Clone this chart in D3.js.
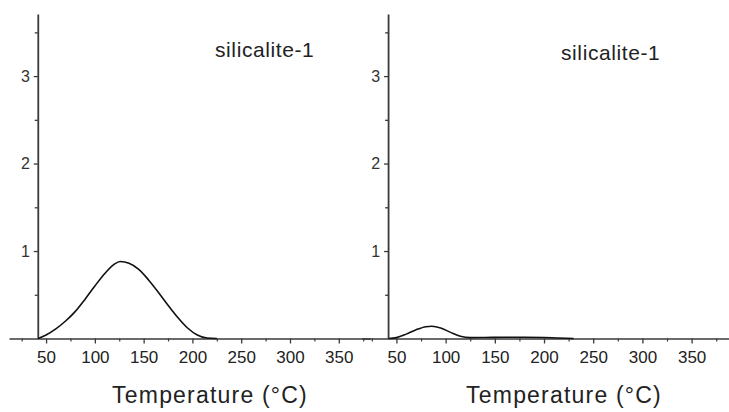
<!DOCTYPE html>
<html>
<head>
<meta charset="utf-8">
<script src="https://cdn.jsdelivr.net/npm/d3@7"></script>
<style>
  body { margin: 0; background: #fff; }
  svg { display: block; font-family: "Liberation Sans", Arial, sans-serif; }
</style>
</head>
<body>
<div id="chart"></div>
<script>
// temperature (°C) and signal for each panel
const leftTemp  = [42, 50, 60, 70, 80, 90, 100, 110, 120, 126, 135, 145, 155, 165, 175, 185, 195, 205, 215, 225];
const leftVal   = [0, 0.04, 0.11, 0.2, 0.31, 0.45, 0.6, 0.74, 0.85, 0.88, 0.86, 0.79, 0.67, 0.53, 0.38, 0.24, 0.12, 0.04, 0.005, 0];
const rightTemp = [42, 50, 60, 70, 80, 86, 95, 105, 115, 125, 140, 160, 180, 200, 215, 230];
const rightVal  = [0, 0.01, 0.05, 0.1, 0.135, 0.14, 0.12, 0.07, 0.025, 0.01, 0.012, 0.015, 0.015, 0.012, 0.005, 0];

const xMajor = [50, 100, 150, 200, 250, 300, 350];
const xMinor = [25, 75, 125, 175, 225, 275, 325, 375];
const yMajor = [1, 2, 3];
const yMinor = [0.5, 1.5, 2.5, 3.5];
const panelLabel = "silicalite-1";
const xTitle = "Temperature (°C)";

const W = 729, H = 412;
const axisColor = "#3a3a3a";

const svg = d3.select("#chart").append("svg")
    .attr("width", W)
    .attr("height", H);

const y = d3.scaleLinear().domain([0, 3.71]).range([338.5, 14]);

const panels = [
    {temp: leftTemp, val: leftVal, domain: [12, 382], range: [9, 370], label: [215, 57], title: 210},
    {temp: rightTemp, val: rightVal, domain: [15, 388], range: [362, 729], label: [561, 60], title: 564}
];

panels.forEach(p => {
    const x = d3.scaleLinear().domain(p.domain).range(p.range);
    const g = svg.append("g");
    const yAxisX = x(41.5);

    // x axis: minor ticks first, then labelled major ticks
    g.append("g")
        .attr("transform", `translate(0,${y(0)})`)
        .call(d3.axisBottom(x).tickValues(xMinor).tickSize(3).tickFormat(""))
        .call(a => a.select(".domain").remove())
        .call(a => a.selectAll("line").attr("stroke", axisColor).attr("stroke-width", 1.2));

    const xa = g.append("g")
        .attr("transform", `translate(0,${y(0)})`)
        .call(d3.axisBottom(x).tickValues(xMajor).tickSize(5).tickPadding(7).tickSizeOuter(0));
    xa.select(".domain").attr("stroke", axisColor).attr("stroke-width", 1.6);
    xa.selectAll("line").attr("stroke", axisColor).attr("stroke-width", 1.3);
    xa.selectAll("text").attr("fill", "#222").style("font-size", "17px").attr("font-family", null);

    // y axis
    g.append("g")
        .attr("transform", `translate(${yAxisX},0)`)
        .call(d3.axisLeft(y).tickValues(yMinor).tickSize(3).tickFormat(""))
        .call(a => a.select(".domain").remove())
        .call(a => a.selectAll("line").attr("stroke", axisColor).attr("stroke-width", 1.3));

    const ya = g.append("g")
        .attr("transform", `translate(${yAxisX},0)`)
        .call(d3.axisLeft(y).tickValues(yMajor).tickFormat(d3.format("d"))
            .tickSize(4).tickPadding(4).tickSizeOuter(0));
    ya.select(".domain").attr("stroke", axisColor).attr("stroke-width", 1.8);
    ya.selectAll("line").attr("stroke", axisColor).attr("stroke-width", 1.3);
    ya.selectAll("text").attr("fill", "#333").style("font-size", "16px").attr("font-family", null);

    // curve
    const pts = p.temp.map((t, i) => [t, p.val[i]]);
    g.append("path")
        .datum(pts)
        .attr("fill", "none")
        .attr("stroke", "#111")
        .attr("stroke-width", 1.6)
        .attr("d", d3.line().x(d => x(d[0])).y(d => y(d[1])).curve(d3.curveMonotoneX));

    // panel label
    g.append("text")
        .attr("x", p.label[0])
        .attr("y", p.label[1])
        .attr("fill", "#222")
        .style("font-size", "21px")
        .style("letter-spacing", "0.6px")
        .text(panelLabel);

    // x title
    g.append("text")
        .attr("x", p.title)
        .attr("y", 403)
        .attr("text-anchor", "middle")
        .attr("fill", "#222")
        .style("font-size", "23px")
        .style("letter-spacing", "1.2px")
        .text(xTitle);
});
</script>
</body>
</html>
